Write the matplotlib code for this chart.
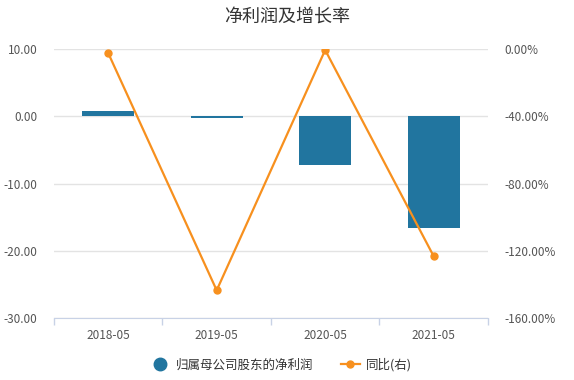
import numpy as np
import matplotlib.pyplot as plt
from matplotlib.lines import Line2D

plt.rcParams['font.family'] = ['Noto Sans CJK SC', 'DejaVu Sans']

# 数据
categories = ['2018-05', '2019-05', '2020-05', '2021-05']
net_profit = [0.75, -0.3, -7.3, -16.6]
yoy_pct = [-2.4, -143.5, -0.6, -123.2]

bar_color = '#21759f'
line_color = '#f7901e'
grid_color = '#e3e3e3'
text_color = '#555555'

fig = plt.figure(figsize=(5.74, 3.80), dpi=100)
ax = fig.add_axes([0.094, 0.163, 0.756, 0.708])
ax2 = ax.twinx()

x = np.arange(len(categories))

# 柱状图
ax.bar(x, net_profit, width=0.48, color=bar_color, zorder=2)
ax.set_xlim(-0.5, len(categories) - 0.5)
ax.set_ylim(-30, 10)
ax.set_yticks([10, 0, -10, -20, -30])
ax.set_yticklabels(['%.2f' % v for v in [10, 0, -10, -20, -30]])
ax.yaxis.grid(True, color=grid_color, linewidth=1, zorder=0)
ax.set_xticks(x)
ax.set_xticklabels(categories)
ax.set_xticks(np.arange(-0.5, len(categories)), minor=True)
ax.tick_params(axis='x', which='major', length=0, pad=8, labelsize=8.5, labelcolor=text_color)
ax.tick_params(axis='x', which='minor', length=5, color='#c8d2e6', width=1)
ax.tick_params(axis='y', length=0, pad=12, labelsize=8.5, labelcolor=text_color)

# 折线图
ax2.plot(x, yoy_pct, color=line_color, linewidth=1.6, marker='o', markersize=5, zorder=3)
ax2.set_ylim(-160, 0)
ax2.set_yticks([0, -40, -80, -120, -160])
ax2.set_yticklabels(['%.2f%%' % v for v in [0, -40, -80, -120, -160]])
ax2.tick_params(axis='y', length=0, pad=12, labelsize=8.5, labelcolor=text_color)

for a in (ax, ax2):
    for s in a.spines.values():
        s.set_visible(False)
ax.spines['bottom'].set_visible(True)
ax.spines['bottom'].set_color('#c8d2e6')

fig.text(0.5, 0.955, '净利润及增长率', ha='center', va='center', fontsize=13, color='#333333')

handles = [
    Line2D([0], [0], marker='o', color='none', markerfacecolor=bar_color, markeredgecolor=bar_color, markersize=9),
    Line2D([0], [0], marker='o', color=line_color, markerfacecolor=line_color, markersize=5, linewidth=1.6),
]
fig.legend(handles, ['归属母公司股东的净利润', '同比(右)'], loc='center', bbox_to_anchor=(0.49, 0.04),
           ncol=2, frameon=False, fontsize=9, handlelength=1.5, columnspacing=2.2, handletextpad=0.5,
           labelcolor='#333333')

fig.savefig('out.png', dpi=100)
